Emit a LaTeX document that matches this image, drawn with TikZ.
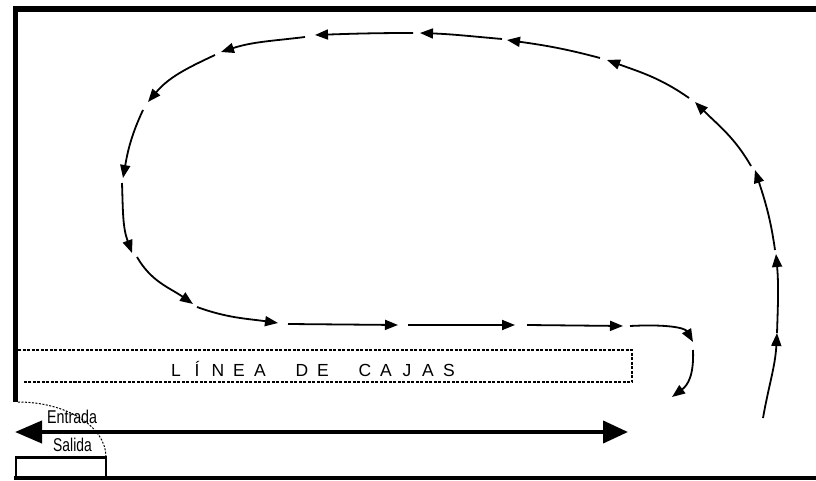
\documentclass[tikz,border=0pt]{standalone}
\usepackage{fontspec}
\setmainfont{Liberation Sans}
\usepackage{graphicx}
\usetikzlibrary{arrows.meta}
\begin{document}
\begin{tikzpicture}[x=1pt,y=1pt,
  flow/.style={line width=1.8pt,-{Triangle[length=13pt,width=10pt]}},
  wall/.style={line width=5.5pt,line join=miter},
  lbl/.style={inner sep=0pt,anchor=base west},
  letter/.style={inner sep=0pt,anchor=base,font=\fontsize{17.5}{17.5}\selectfont},
  cajas/.style={line width=1.3pt,dash pattern=on 3pt off 1.5pt},
  door/.style={line width=1pt,dash pattern=on 2pt off 1.5pt}]
\useasboundingbox (0,0) rectangle (816,480);
% frame
\coordinate (wl) at (15.5,78);
\coordinate (wc) at (15.5,471);
\coordinate (wr) at (816,471);
\draw[wall] (wl) -- (wc) -- (wr);
\coordinate (bl) at (14,2);
\coordinate (br) at (816,2);
\draw[line width=4pt] (bl) -- (br);
% small box
\coordinate (sb1) at (16,3);
\coordinate (sb2) at (106,22.5);
\draw[line width=2.5pt] (sb1) rectangle (sb2);
% door arc
\coordinate (dA) at (18,78);
\draw[door] (dA) arc[start angle=90,end angle=0,x radius=88,y radius=55];
% line of boxes
\coordinate (c1) at (18,130);
\coordinate (c2) at (632,130);
\coordinate (c3) at (632,98);
\coordinate (c4) at (24,98);
\draw[cajas] (c1) -- (c2) -- (c3) -- (c4);
\foreach \ch/\i in {L/0,Í/1,N/2,E/3,A/4,D/6,E/7,C/9,A/10,J/11,A/12,S/13}
  \node[letter] (cj\i) at (176+\i*21,103.3) {\ch};
% entrance / exit
\node[lbl] (tent) at (47,57) {\fontsize{18.5}{18.5}\selectfont\scalebox{0.77}[1]{Entrada}};
\node[lbl] (tsal) at (53,28.3) {\fontsize{18.5}{18.5}\selectfont\scalebox{0.75}[1]{Salida}};
\coordinate (da1) at (15,48);
\coordinate (da2) at (628,48);
\draw[line width=4pt,{Triangle[length=27pt,width=22pt]}-{Triangle[length=25pt,width=22pt]}] (da1) -- (da2);
% flow path
\coordinate (a1) at (763,62);  \coordinate (b1) at (777,147);
\coordinate (a2) at (777,147); \coordinate (b2) at (776,226);
\coordinate (a3) at (775,230); \coordinate (b3) at (755,310);
\coordinate (a4) at (751,314); \coordinate (b4) at (695,378);
\coordinate (a5) at (689,382); \coordinate (b5) at (607,420);
\coordinate (a6) at (600,422); \coordinate (b6) at (507,440);
\coordinate (a7) at (502,441); \coordinate (b7) at (420,447);
\coordinate (a8) at (413,447); \coordinate (b8) at (315,445);
\coordinate (a9) at (305,443); \coordinate (b9) at (221,428);
\coordinate (a10) at (215,425); \coordinate (b10) at (148,378);
\coordinate (a11) at (143,370); \coordinate (b11) at (123,302);
\coordinate (a12) at (122,297); \coordinate (b12) at (132,227);
\coordinate (a13) at (137,223); \coordinate (b13) at (193,176);
\coordinate (a14) at (197,173); \coordinate (b14) at (278,157);
\coordinate (a15) at (288,156); \coordinate (b15) at (398,155);
\coordinate (a16) at (408,155); \coordinate (b16) at (515,155);
\coordinate (a17) at (527,155); \coordinate (b17) at (623,154);
\coordinate (a18) at (630,154); \coordinate (b18) at (693,138);
\coordinate (a19) at (693,130); \coordinate (b19) at (672,83);
\draw[flow] (a1) to[out=80,in=267] (b1);
\draw[flow] (a2) to[out=88,in=275] (b2);
\draw[flow] (a3) to[out=98,in=288] (b3);
\draw[flow] (a4) to[out=120,in=315] (b4);
\draw[flow] (a5) to[out=145,in=340] (b5);
\draw[flow] (a6) to[out=165,in=352] (b6);
\draw[flow] (a7) to[out=175,in=358] (b7);
\draw[flow] (a8) to[out=180,in=2] (b8);
\draw[flow] (a9) to[out=187,in=18] (b9);
\draw[flow] (a10) to[out=205,in=50] (b10);
\draw[flow] (a11) to[out=245,in=80] (b11);
\draw[flow] (a12) to[out=272,in=110] (b12);
\draw[flow] (a13) to[out=300,in=145] (b13);
\draw[flow] (a14) to[out=340,in=172] (b14);
\draw[flow] (a15) -- (b15);
\draw[flow] (a16) -- (b16);
\draw[flow] (a17) -- (b17);
\draw[flow] (a18) .. controls (668,156) and (685,152) .. (b18);
\draw[flow] (a19) .. controls (694,105) and (688,95) .. (b19);
\end{tikzpicture}
\end{document}
